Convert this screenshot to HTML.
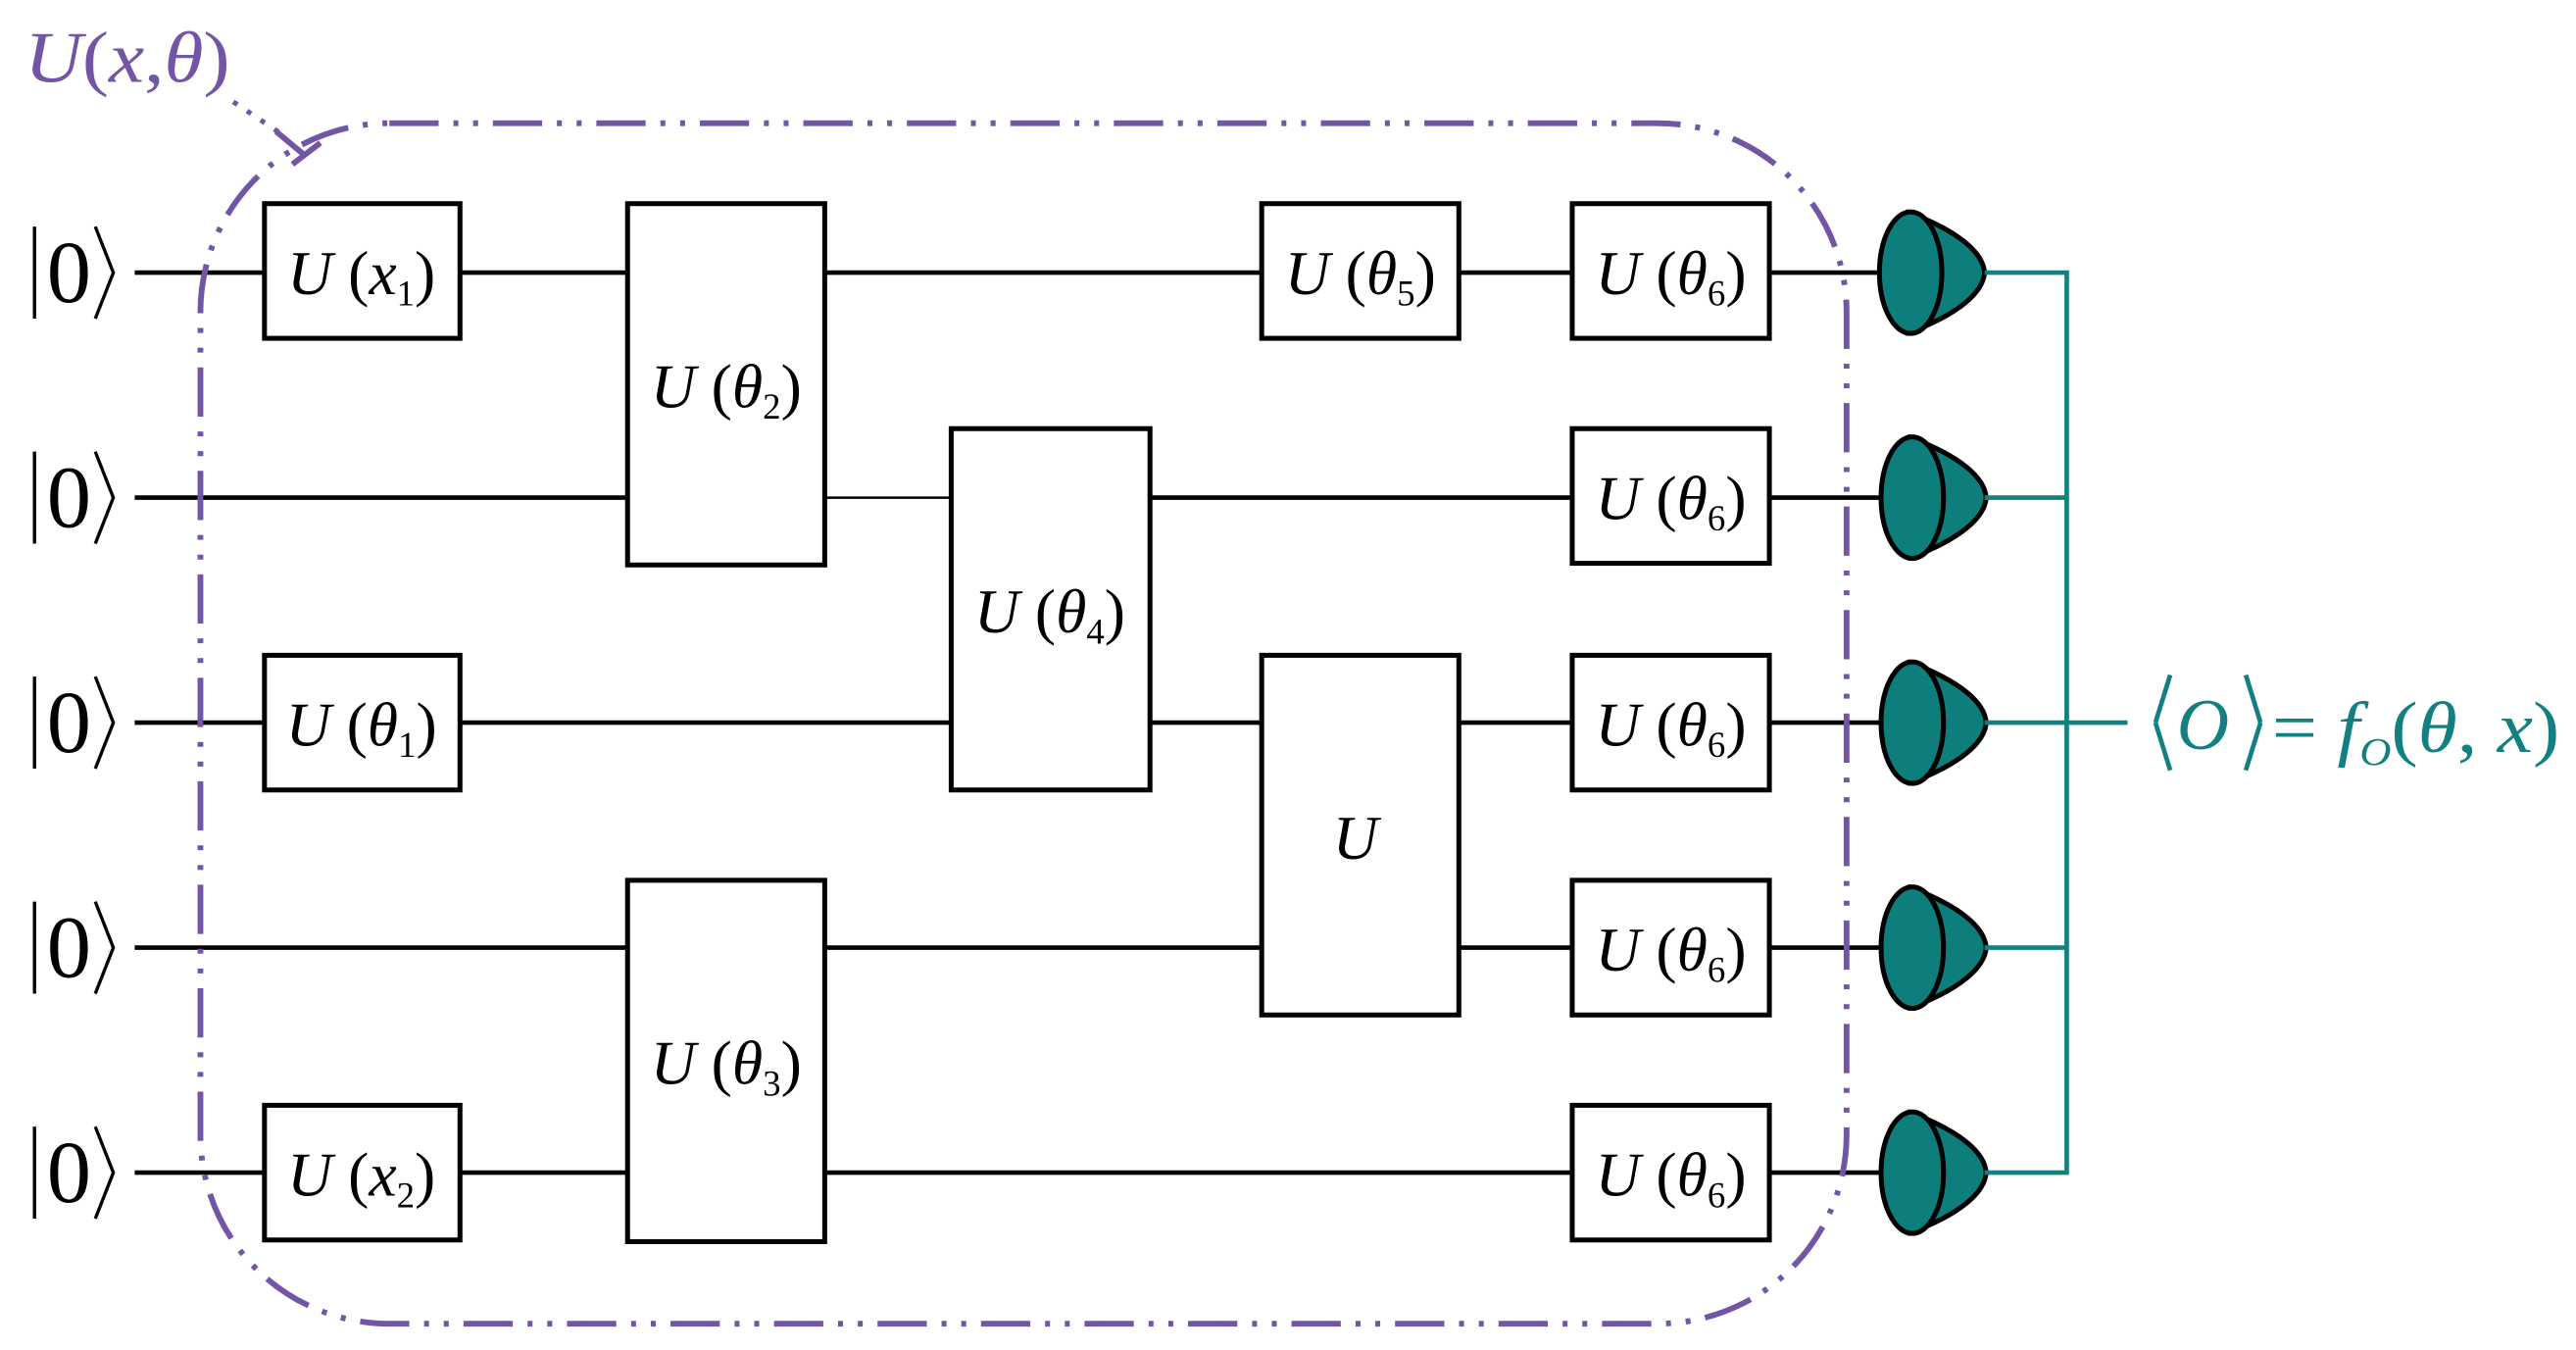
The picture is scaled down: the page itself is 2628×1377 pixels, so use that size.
<!DOCTYPE html>
<html><head><meta charset="utf-8"><style>
html,body{margin:0;padding:0;background:#fff;}
svg{display:block;}
text{font-family:"Liberation Serif",serif;}
</style></head><body>
<svg width="2628" height="1377" viewBox="0 0 1568 822" preserveAspectRatio="none" xmlns="http://www.w3.org/2000/svg">
<defs>
<g id="det">
  <path d="M-2,-37 C30,-25 44,-12 45,0 C44,12 30,25 -2,37 Z" fill="#0e7e7d" stroke="#000" stroke-width="3" stroke-linejoin="round"/>
  <ellipse cx="0" cy="0" rx="19" ry="37" fill="#0e7e7d" stroke="#000" stroke-width="3"/>
</g>
</defs>
<g stroke="#000" stroke-width="2.8" fill="none">
  <line x1="82" y1="166" x2="1145" y2="166"/>
  <line x1="82" y1="303" x2="382" y2="303"/>
  <line x1="502" y1="303" x2="579" y2="303" stroke-width="1.5"/>
  <line x1="700" y1="303" x2="1145" y2="303"/>
  <line x1="82" y1="440" x2="579" y2="440"/>
  <line x1="700" y1="440" x2="768" y2="440"/>
  <line x1="888" y1="440" x2="1145" y2="440"/>
  <line x1="82" y1="577" x2="768" y2="577"/>
  <line x1="888" y1="577" x2="1145" y2="577"/>
  <line x1="82" y1="714" x2="1145" y2="714"/>
</g>
<rect x="122" y="75" width="1002" height="731" rx="115" ry="115" fill="none" stroke="#7355a5" stroke-width="3.5" stroke-dasharray="30 9 3 9 3 9"/>
<path d="M142,62 L172,82" stroke="#7355a5" stroke-width="3" stroke-dasharray="3 7" fill="none"/>
<path d="M168,80 L186,95 M178,100 L195,87" stroke="#7355a5" stroke-width="3.5" fill="none"/>
<text x="15" y="50" font-size="44" font-style="italic" fill="#7355a5" textLength="125" lengthAdjust="spacingAndGlyphs">U<tspan font-style="normal">(</tspan>x<tspan font-style="normal">,</tspan>θ<tspan font-style="normal">)</tspan></text>
<g fill="#fff" stroke="#000" stroke-width="3">
  <rect x="161" y="124" width="119" height="82"/>
  <rect x="382" y="124" width="120" height="220"/>
  <rect x="579" y="261" width="121" height="220"/>
  <rect x="161" y="399" width="119" height="82"/>
  <rect x="382" y="536" width="120" height="220"/>
  <rect x="161" y="673" width="119" height="82"/>
  <rect x="768" y="124" width="120" height="82"/>
  <rect x="768" y="399" width="120" height="219"/>
  <rect x="957" y="124" width="120" height="82"/>
  <rect x="957" y="261" width="120" height="82"/>
  <rect x="957" y="399" width="120" height="82"/>
  <rect x="957" y="536" width="120" height="82"/>
  <rect x="957" y="673" width="120" height="82"/>
</g>
<g font-size="38" fill="#000" text-anchor="middle">
  <text x="220" y="179"><tspan font-style="italic">U</tspan> (<tspan font-style="italic">x</tspan><tspan font-size="22" dy="7">1</tspan><tspan dy="-7">)</tspan></text>
  <text x="442" y="248"><tspan font-style="italic">U</tspan> (<tspan font-style="italic">θ</tspan><tspan font-size="22" dy="7">2</tspan><tspan dy="-7">)</tspan></text>
  <text x="639" y="385"><tspan font-style="italic">U</tspan> (<tspan font-style="italic">θ</tspan><tspan font-size="22" dy="7">4</tspan><tspan dy="-7">)</tspan></text>
  <text x="220" y="454"><tspan font-style="italic">U</tspan> (<tspan font-style="italic">θ</tspan><tspan font-size="22" dy="7">1</tspan><tspan dy="-7">)</tspan></text>
  <text x="442" y="660"><tspan font-style="italic">U</tspan> (<tspan font-style="italic">θ</tspan><tspan font-size="22" dy="7">3</tspan><tspan dy="-7">)</tspan></text>
  <text x="220" y="728"><tspan font-style="italic">U</tspan> (<tspan font-style="italic">x</tspan><tspan font-size="22" dy="7">2</tspan><tspan dy="-7">)</tspan></text>
  <text x="828" y="179"><tspan font-style="italic">U</tspan> (<tspan font-style="italic">θ</tspan><tspan font-size="22" dy="7">5</tspan><tspan dy="-7">)</tspan></text>
  <text x="825" y="523" font-style="italic">U</text>
  <text x="1017" y="179"><tspan font-style="italic">U</tspan> (<tspan font-style="italic">θ</tspan><tspan font-size="22" dy="7">6</tspan><tspan dy="-7">)</tspan></text>
  <text x="1017" y="316"><tspan font-style="italic">U</tspan> (<tspan font-style="italic">θ</tspan><tspan font-size="22" dy="7">6</tspan><tspan dy="-7">)</tspan></text>
  <text x="1017" y="454"><tspan font-style="italic">U</tspan> (<tspan font-style="italic">θ</tspan><tspan font-size="22" dy="7">6</tspan><tspan dy="-7">)</tspan></text>
  <text x="1017" y="591"><tspan font-style="italic">U</tspan> (<tspan font-style="italic">θ</tspan><tspan font-size="22" dy="7">6</tspan><tspan dy="-7">)</tspan></text>
  <text x="1017" y="728"><tspan font-style="italic">U</tspan> (<tspan font-style="italic">θ</tspan><tspan font-size="22" dy="7">6</tspan><tspan dy="-7">)</tspan></text>
</g>
<g stroke="#000" stroke-width="2" fill="none">
  <line x1="21" y1="138" x2="21" y2="194"/><polyline points="58,138 69,166 58,194"/>
  <line x1="21" y1="275" x2="21" y2="331"/><polyline points="58,275 69,303 58,331"/>
  <line x1="21" y1="412" x2="21" y2="468"/><polyline points="58,412 69,440 58,468"/>
  <line x1="21" y1="549" x2="21" y2="605"/><polyline points="58,549 69,577 58,605"/>
  <line x1="21" y1="686" x2="21" y2="742"/><polyline points="58,686 69,714 58,742"/>
</g>
<g font-size="54" fill="#000" text-anchor="middle">
  <text x="42" y="184">0</text>
  <text x="42" y="321">0</text>
  <text x="42" y="458">0</text>
  <text x="42" y="595">0</text>
  <text x="42" y="732">0</text>
</g>
<use href="#det" x="1163" y="166"/>
<use href="#det" x="1164" y="303"/>
<use href="#det" x="1164" y="440"/>
<use href="#det" x="1164" y="577"/>
<use href="#det" x="1164" y="714"/>
<g stroke="#128080" stroke-width="2.8" fill="none">
  <polyline points="1208,166 1258,166 1258,714 1208,714"/>
  <line x1="1208" y1="303" x2="1258" y2="303"/>
  <line x1="1208" y1="440" x2="1295" y2="440"/>
  <line x1="1208" y1="577" x2="1258" y2="577"/>
  <line x1="1321" y1="411" x2="1312" y2="440"/><line x1="1312" y1="440" x2="1321" y2="469"/>
  <line x1="1367" y1="411" x2="1376" y2="440"/><line x1="1376" y1="440" x2="1367" y2="469"/>
</g>
<text x="1325" y="456" font-size="44" font-style="italic" fill="#128080">O</text>
<text x="1383" y="458" font-size="44" fill="#128080" textLength="175" lengthAdjust="spacingAndGlyphs">= <tspan font-style="italic">f</tspan><tspan font-size="24" font-style="italic" dy="8">O</tspan><tspan dy="-8">(</tspan><tspan font-style="italic">θ</tspan>, <tspan font-style="italic">x</tspan>)</text>
</svg>
</body></html>
